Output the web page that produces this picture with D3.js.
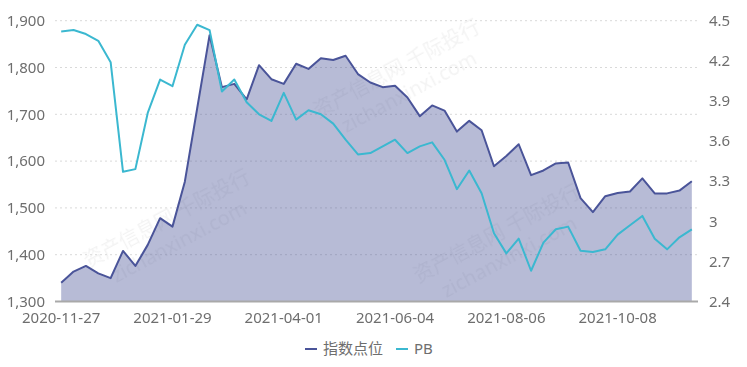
<!DOCTYPE html>
<html><head><meta charset="utf-8">
<script src="https://cdn.jsdelivr.net/npm/d3@7/dist/d3.min.js"></script>
<style>
html,body{margin:0;padding:0;background:#fff;}
svg{display:block;font-family:"Noto Sans","Noto Sans CJK SC",sans-serif;}
</style></head>
<body>
<svg id="chart" width="747" height="367"></svg>
<script>
const categories = ["2020-11-27","2020-12-04","2020-12-11","2020-12-18","2020-12-25","2020-12-31","2021-01-08","2021-01-15","2021-01-22","2021-01-29","2021-02-05","2021-02-10","2021-02-19","2021-02-26","2021-03-05","2021-03-12","2021-03-19","2021-03-26","2021-04-01","2021-04-09","2021-04-16","2021-04-23","2021-04-30","2021-05-07","2021-05-14","2021-05-21","2021-05-28","2021-06-04","2021-06-11","2021-06-18","2021-06-25","2021-07-02","2021-07-09","2021-07-16","2021-07-23","2021-07-30","2021-08-06","2021-08-13","2021-08-20","2021-08-27","2021-09-03","2021-09-10","2021-09-17","2021-09-24","2021-09-30","2021-10-08","2021-10-15","2021-10-22","2021-10-29","2021-11-05","2021-11-12","2021-11-19"];
const indexValues = [1340,1364,1376,1360,1350,1408,1376,1421,1478,1460,1556,1713,1869,1758,1765,1732,1805,1775,1765,1808,1797,1820,1816,1825,1786,1768,1758,1761,1736,1696,1719,1708,1663,1686,1666,1589,1611,1636,1570,1580,1595,1597,1521,1491,1525,1532,1535,1563,1531,1531,1537,1557];
const pbValues = [4.42,4.43,4.40,4.35,4.19,3.37,3.39,3.81,4.06,4.01,4.32,4.47,4.43,3.97,4.06,3.89,3.80,3.75,3.96,3.76,3.83,3.80,3.73,3.61,3.50,3.51,3.56,3.61,3.51,3.56,3.59,3.46,3.24,3.38,3.21,2.91,2.76,2.87,2.63,2.84,2.94,2.96,2.78,2.77,2.79,2.90,2.97,3.04,2.87,2.79,2.88,2.94];
const leftTicks = [1300,1400,1500,1600,1700,1800,1900];
const rightTicks = [2.4,2.7,3.0,3.3,3.6,3.9,4.2,4.5];
const xTickLabels = ["2020-11-27","2021-01-29","2021-04-01","2021-06-04","2021-08-06","2021-10-08"];
const seriesNames = ["指数点位","PB"];

const C_INDEX = "#4a5499", C_PB = "#3bb8d0";
const svg = d3.select("#chart");
const L = 55, R = 698, T = 20.7, B = 301.5;

const x = d3.scaleBand().domain(categories).range([L, R]).paddingInner(0).paddingOuter(0);
const cx = d => x(d) + x.bandwidth() / 2;
const yL = d3.scaleLinear().domain([1300, 1900]).range([B, T]);
const yR = d3.scaleLinear().domain([2.4, 4.5]).range([B, T]);

// watermark (faint)
const wm = svg.append("g").attr("fill", "#000").attr("opacity", 0.05).attr("font-size", 20);
[[400,75],[170,225],[500,240]].forEach(([px,py]) => {
  const g = wm.append("g").attr("transform", `translate(${px},${py}) rotate(-28)`);
  g.append("text").attr("text-anchor","middle").text("资产信息网 千际投行");
  g.append("text").attr("text-anchor","middle").attr("y", 26).text("zichanxinxi.com");
});

// grid lines
svg.append("g").selectAll("line").data(leftTicks.filter(t => t !== 1300)).join("line")
  .attr("x1", L).attr("x2", R).attr("y1", d => yL(d)).attr("y2", d => yL(d))
  .attr("stroke", "#d9d9d9").attr("stroke-width", 1).attr("stroke-dasharray", "2,3");

// area + index line
const area = d3.area().x((d, i) => cx(categories[i])).y0(yL(1300)).y1(d => yL(d));
svg.append("path").datum(indexValues).attr("d", area).attr("fill", C_INDEX).attr("fill-opacity", 0.4);
const lineL = d3.line().x((d, i) => cx(categories[i])).y(d => yL(d));
svg.append("path").datum(indexValues).attr("d", lineL).attr("fill", "none")
  .attr("stroke", C_INDEX).attr("stroke-width", 2).attr("stroke-linejoin", "round");

// PB line
const lineR = d3.line().x((d, i) => cx(categories[i])).y(d => yR(d));
svg.append("path").datum(pbValues).attr("d", lineR).attr("fill", "none")
  .attr("stroke", C_PB).attr("stroke-width", 2).attr("stroke-linejoin", "round");

// base axis line
svg.append("line").attr("x1", L).attr("x2", R).attr("y1", B).attr("y2", B)
  .attr("stroke", "#a9a9a9").attr("stroke-width", 2);

// left axis
const axL = d3.axisLeft(yL).tickValues(leftTicks).tickSize(0).tickPadding(10).tickFormat(d3.format(","));
const gL = svg.append("g").attr("transform", `translate(${L},0)`).call(axL);
gL.select(".domain").remove();
gL.selectAll("text").attr("fill", "#6e6e6e").attr("font-size", 15).attr("font-family", "Noto Sans");

// right axis
const axR = d3.axisRight(yR).tickValues(rightTicks).tickSize(0).tickPadding(11).tickFormat(d => String(+d.toFixed(1)));
const gR = svg.append("g").attr("transform", `translate(${R},0)`).call(axR);
gR.select(".domain").remove();
gR.selectAll("text").attr("fill", "#6e6e6e").attr("font-size", 15).attr("font-family", "Noto Sans");

// x axis
const axX = d3.axisBottom(x).tickValues(xTickLabels).tickSize(0).tickPadding(11);
const gX = svg.append("g").attr("transform", `translate(0,${B})`).call(axX);
gX.select(".domain").remove();
gX.selectAll("text").attr("fill", "#6e6e6e").attr("font-size", 15).attr("font-family", "Noto Sans");

// legend
const leg = svg.append("g").attr("font-size", 15).attr("fill", "#6e6e6e");
const items = [{name: seriesNames[0], c: C_INDEX, x: 305}, {name: seriesNames[1], c: C_PB, x: 396}];
items.forEach(it => {
  leg.append("line").attr("x1", it.x).attr("x2", it.x + 12).attr("y1", 349).attr("y2", 349)
    .attr("stroke", it.c).attr("stroke-width", 2);
  leg.append("text").attr("x", it.x + 18).attr("y", 349).attr("dy", "0.35em").text(it.name);
});
</script>
</body></html>
